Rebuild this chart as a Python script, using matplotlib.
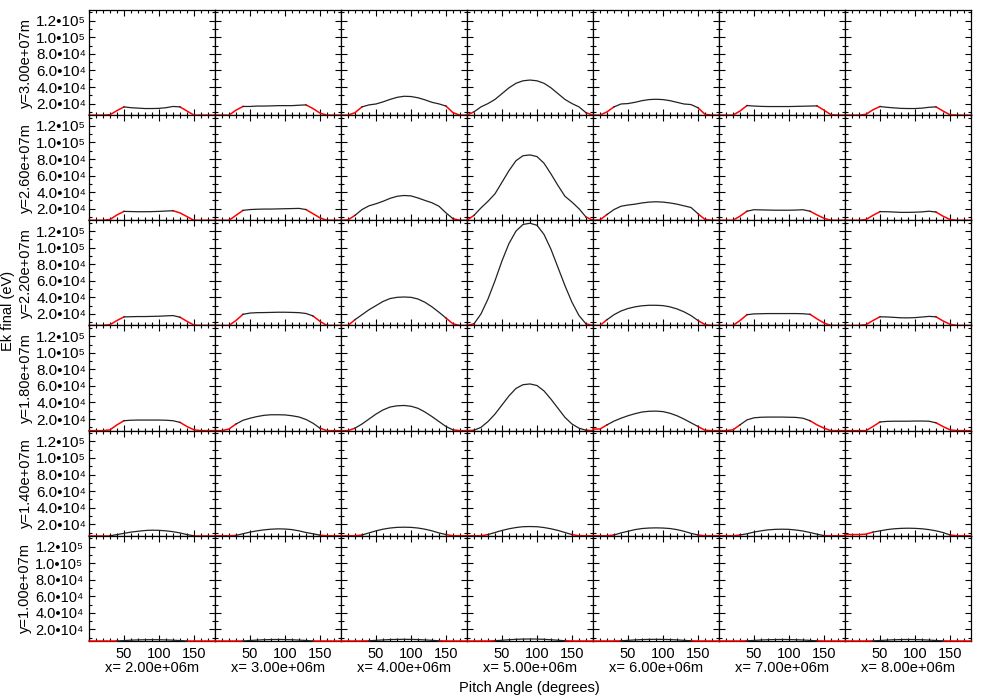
import numpy as np
import matplotlib
matplotlib.use("Agg")
from matplotlib import pyplot as plt
from matplotlib.ticker import MultipleLocator, FixedLocator

plt.rcParams['font.family'] = ['Liberation Sans', 'DejaVu Sans']

# pitch angle grid (degrees)
pitch = [0, 10, 20, 30, 40, 50, 60, 70, 80, 90, 100, 110, 120, 130, 140, 150, 160, 170, 180]

x_pos = ['2.00e+06', '3.00e+06', '4.00e+06', '5.00e+06', '6.00e+06', '7.00e+06', '8.00e+06']
y_pos = ['3.00e+07', '2.60e+07', '2.20e+07', '1.80e+07', '1.40e+07', '1.00e+07']

# final energy in keV, one list of 7 panels per row (top row first)
ek_y300 = [
    [6, 6, 6, 6.5, 11.5, 16, 15, 14.5, 14, 14, 14.2, 15, 16.5, 16, 11, 6, 6, 6, 6],
    [6, 6, 6, 12, 16.5, 16.5, 17, 17, 17.2, 17.5, 17.5, 17.5, 18, 18.4, 14, 8.5, 6, 6, 6],
    [6, 6, 9, 16, 18.4, 19.5, 22, 25, 27.5, 28.8, 28.5, 27, 24.5, 21.5, 19.6, 17, 9, 6, 6],
    [6, 10, 16, 20, 25, 32, 39, 44.5, 47.5, 48.4, 47.5, 44.5, 39, 32, 25, 20, 16, 9, 6],
    [6, 6, 10, 16, 19.5, 20, 21.5, 23.5, 24.8, 25.2, 24.8, 23.5, 21.5, 19.5, 18.8, 15, 7, 6, 6],
    [6, 6, 6, 11, 17.6, 17, 16.6, 16.4, 16.4, 16.4, 16.4, 16.6, 16.8, 17, 17.2, 12, 6.5, 6, 6],
    [6, 6, 6, 7, 12.5, 16.4, 15.5, 14.8, 14.2, 14, 14, 14.5, 15.5, 16, 11, 6.5, 6, 6, 6],
]
ek_y260 = [
    [6, 6, 6, 7, 12.5, 16.8, 16.6, 16.4, 16.4, 16.5, 16.8, 17.2, 17.6, 15, 10.5, 6, 6, 6, 6],
    [6, 6, 6, 12, 18, 19, 19.4, 19.6, 19.6, 19.8, 20, 20.2, 20.4, 19, 14, 9, 6, 6, 6],
    [6, 6.5, 12, 19, 23.5, 26, 29, 32.5, 35, 36, 35.5, 33, 30, 27.2, 23, 15, 8, 6, 6],
    [6, 12, 21, 29, 38, 52, 66, 78, 84, 85, 83, 75, 62, 48, 35, 28, 20, 10, 6],
    [6, 6.5, 13, 19, 23, 24.5, 25.5, 27, 28, 28.4, 28, 27, 25.5, 23.5, 21.5, 14, 7, 6, 6],
    [6, 6, 6, 11, 17, 18.8, 18.6, 18.4, 18.2, 18.2, 18.2, 18.4, 18.8, 17, 12.5, 8.5, 6, 6, 6],
    [6, 6, 6, 7, 12, 16.5, 16.4, 16, 15.6, 15.6, 15.8, 16.2, 17, 16, 11, 7, 6, 6, 6],
]
ek_y220 = [
    [6, 6, 6, 7, 12, 16.4, 16.6, 16.8, 16.8, 17, 17.2, 17.6, 18, 16, 11, 6.5, 6, 6, 6],
    [6, 6, 6, 12, 19.5, 21, 21.5, 21.6, 21.8, 22, 22, 21.8, 21.5, 20.5, 17.5, 11, 6, 6, 6],
    [6, 6, 13, 19, 25, 30, 35, 38.5, 40, 40.4, 40, 38, 34, 28.5, 22, 15, 8, 6, 6],
    [6, 8, 20, 38, 60, 84, 105, 120, 128, 129.5, 127, 116, 98, 76, 54, 34, 18, 8, 6],
    [6, 6, 13, 19, 23.5, 26.5, 28.5, 29.8, 30.4, 30.4, 30, 28.5, 26, 22.5, 18, 12, 7, 6, 6],
    [6, 6, 6, 12, 19, 20, 20.2, 20.4, 20.4, 20.4, 20.4, 20.4, 20.2, 19.5, 14, 9, 6, 6, 6],
    [6, 6, 6, 7, 12, 16.5, 16.3, 15.8, 15.3, 15.2, 15.5, 16.2, 17, 16.5, 11.5, 7.5, 6, 6, 6],
]
ek_y180 = [
    [6, 6, 6, 7, 13, 18, 18.6, 18.8, 18.8, 18.8, 18.8, 18.6, 18, 16, 11, 7, 6, 6, 6],
    [6, 6, 8, 14, 18.5, 21, 23, 24.5, 25.2, 25.2, 25, 24, 22.5, 19.5, 15, 9, 6, 6, 6],
    [6, 6, 9, 14, 20, 26, 31, 34.5, 36, 36.4, 35.5, 33, 28.5, 23, 17, 11, 7, 6, 6],
    [6, 6.5, 10, 17, 26, 37, 48, 57, 61.5, 62.4, 60.5, 54, 44, 33, 22, 14, 9, 6.5, 6],
    [8, 8, 13, 17.5, 21, 24, 26.5, 28.5, 29.4, 29.6, 29, 27, 24, 20, 15.5, 11, 6.5, 6, 6],
    [6, 6, 7, 13, 19, 21.5, 22.2, 22.4, 22.4, 22.4, 22.2, 22, 21, 18, 13, 9, 6, 6, 6],
    [6, 6, 6, 6, 11, 16.5, 17.2, 17.4, 17.4, 17.4, 17.6, 17.6, 17.4, 15.5, 11, 7, 6, 6, 6],
]
ek_y140 = [
    [6, 6, 6, 6, 7.5, 9, 10.5, 11.5, 12.4, 12.8, 12.6, 12, 11, 9.5, 7.5, 6, 6, 6, 6],
    [6, 6, 6, 6.5, 8.5, 10.5, 12, 13.2, 14, 14.4, 14.2, 13.5, 12, 10, 8.5, 6.8, 6, 6, 6],
    [6, 6, 6, 7, 9.5, 12, 14, 15.4, 16.2, 16.4, 16.2, 15.4, 14, 12, 9.5, 7.5, 6, 6, 6],
    [6, 6, 6, 7.5, 10, 12.5, 14.5, 16, 17, 17.2, 17, 16, 14.5, 12.5, 10, 7.5, 6, 6, 6],
    [6, 6, 6, 7, 9.5, 11.5, 13.5, 14.8, 15.4, 15.6, 15.4, 14.8, 13.5, 11.5, 9, 7, 6, 6, 6],
    [6, 6, 6, 7, 8.5, 10.5, 12, 13.2, 13.8, 14, 13.8, 13, 11.8, 10, 8, 6.2, 6, 6, 6],
    [7.5, 7.5, 7.5, 8, 10.5, 12, 13.5, 14.5, 15, 15.2, 15, 14.5, 13.5, 12, 10, 7, 6, 6, 6],
]
ek_y100 = [
    [6, 6, 6, 6, 6, 6.5, 7, 7.3, 7.5, 7.6, 7.5, 7.3, 7, 6.5, 6, 6, 6, 6, 6],
    [6, 6, 6, 6, 6, 6.6, 7.1, 7.5, 7.7, 7.8, 7.7, 7.5, 7.1, 6.6, 6, 6, 6, 6, 6],
    [6, 6, 6, 6, 6.2, 6.8, 7.3, 7.7, 7.9, 8, 7.9, 7.7, 7.3, 6.8, 6.2, 6, 6, 6, 6],
    [6, 6, 6, 6, 6.3, 6.9, 7.5, 8, 8.3, 8.4, 8.3, 8, 7.5, 6.9, 6.3, 6, 6, 6, 6],
    [6, 6, 6, 6, 6.2, 6.8, 7.3, 7.7, 7.9, 8, 7.9, 7.7, 7.3, 6.8, 6.2, 6, 6, 6, 6],
    [6, 6, 6, 6, 6.2, 6.7, 7.2, 7.5, 7.7, 7.8, 7.7, 7.5, 7.2, 6.7, 6.2, 6, 6, 6, 6],
    [6, 6, 6, 6, 6.1, 6.6, 7.1, 7.5, 7.7, 7.8, 7.7, 7.5, 7.1, 6.6, 6.1, 6, 6, 6, 6],
]
ek_rows = [ek_y300, ek_y260, ek_y220, ek_y180, ek_y140, ek_y100]

# pitch-angle range (deg) where particles are drawn black; red outside
black_range = [
    [(50, 130), (40, 130), (30, 150), (10, 170), (30, 150), (40, 140), (50, 130)],
    [(50, 120), (40, 130), (20, 160), (10, 170), (20, 150), (40, 130), (50, 130)],
    [(50, 130), (40, 140), (20, 150), (10, 170), (20, 150), (40, 130), (50, 130)],
    [(50, 130), (30, 150), (20, 160), (10, 170), (20, 150), (30, 130), (50, 130)],
    [(30, 150), (30, 150), (30, 150), (30, 150), (30, 150), (30, 150), (40, 150)],
    [(40, 140), (40, 140), (40, 140), (40, 140), (40, 140), (40, 140), (40, 140)],
]

ytick_vals = [2e4, 4e4, 6e4, 8e4, 1e5, 1.2e5]
ytick_txt = ['2.0•10⁴', '4.0•10⁴', '6.0•10⁴', '8.0•10⁴', '1.0•10⁵', '1.2•10⁵']

fig, axes = plt.subplots(6, 7, figsize=(9.81, 6.99), dpi=100, sharex=True, sharey=True)
fig.subplots_adjust(left=0.0907, right=0.9898, top=0.9857, bottom=0.083, wspace=0, hspace=0)

pa = np.array(pitch)
for i in range(6):
    for j in range(7):
        ax = axes[i, j]
        ek = np.array(ek_rows[i][j]) * 1000
        lo, hi = black_range[i][j]
        left = pa <= lo
        right = pa >= hi
        mid = (pa >= lo) & (pa <= hi)
        ax.plot(pa[left], ek[left], color='red', lw=1.1, clip_on=False, zorder=3)
        ax.plot(pa[right], ek[right], color='red', lw=1.1, clip_on=False, zorder=3)
        ax.plot(pa[mid], ek[mid], color='#222222', lw=0.9, clip_on=False, zorder=4)

        ax.set_xlim(0, 180)
        ax.set_ylim(6000, 133000)
        ax.xaxis.set_major_locator(FixedLocator([50, 100, 150]))
        ax.xaxis.set_minor_locator(MultipleLocator(10))
        ax.yaxis.set_major_locator(FixedLocator(ytick_vals))
        ax.yaxis.set_minor_locator(MultipleLocator(1e4))
        ax.tick_params(which='both', direction='in', top=True, right=True,
                       labelleft=False, labelbottom=False, width=0.8)
        ax.tick_params(which='major', length=4)
        ax.tick_params(which='minor', length=2)
        for s in ax.spines.values():
            s.set_linewidth(0.9)

        if j == 0:
            ax.tick_params(labelleft=True, labelsize=11, pad=2)
            ax.set_yticklabels(ytick_txt)
            ax.set_ylabel('y=' + y_pos[i] + 'm', fontsize=10.5, labelpad=2)
        if i == 5:
            ax.tick_params(labelbottom=True, labelsize=10.5, pad=4)
            ax.set_xlabel('x= ' + x_pos[j] + 'm', fontsize=10.5, labelpad=0)

fig.text(0.001, 0.555, 'Ek final (eV)', rotation=90, fontsize=10.5, va='center', ha='left')
fig.text(0.54, 0.016, 'Pitch Angle (degrees)', fontsize=10.5, ha='center', va='center')

plt.savefig('out.png', dpi=100)
